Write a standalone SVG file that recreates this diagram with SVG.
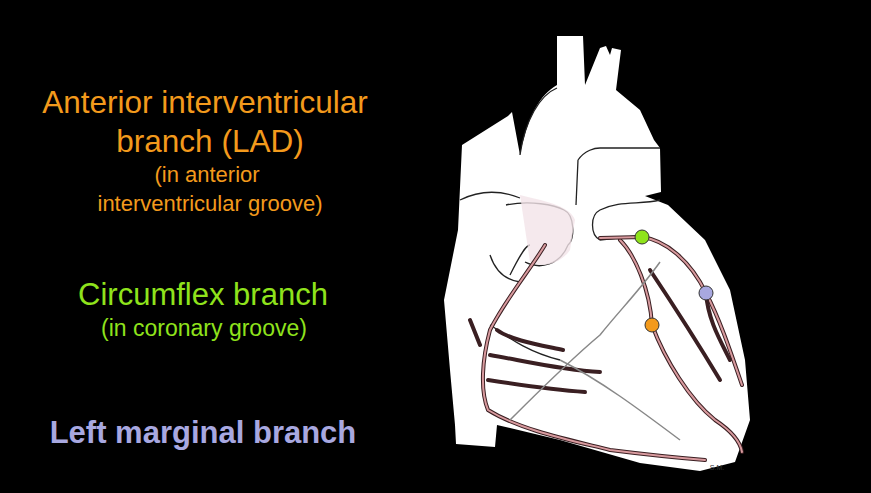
<svg xmlns="http://www.w3.org/2000/svg" width="871" height="493" viewBox="0 0 871 493">
<style>
text{font-family:"Liberation Sans",Arial,sans-serif;text-anchor:middle}
.o{fill:#f39a1c}.g{fill:#8fe31c}.p{fill:#a8a8e0;font-weight:bold}
.ol{fill:none;stroke:#222;stroke-width:1.3}
.a{fill:none;stroke:#3a1f22;stroke-width:4;stroke-linecap:round}
.ai{fill:none;stroke:#d89a9e;stroke-width:2;stroke-linecap:round}
.v{fill:none;stroke:#888;stroke-width:1.5}
</style>
<rect width="871" height="493" fill="#000"/>
<g id="heart">
<path d="M557,36 L583,36 L585,85 L600,48 L606,46 L610,55 L612,48 L621,50 L616,90 L640,110 L654,140 L660,148 L661,192 L645,196 L668,205 L705,240 L730,290 L745,360 L750,420 L735,462 L700,471 L640,463 L560,440 L497,425 L495,447 L456,444 L455,425 L450,370 L444,300 L458,230 L462,145 L508,116 L512,112 L520,155 C528,115 540,95 557,85 Z" fill="#fff"/>
<path class="ol" d="M520,155 C525,120 540,95 557,88 M600,148 L660,148 M578,160 C585,150 595,148 600,148 M578,160 L576,205 M460,200 C480,190 500,190 520,198 M506,205 C530,200 555,205 564,210 C575,215 575,240 568,245 C560,265 540,270 525,262 M600,210 C620,200 640,205 660,200 M600,210 C590,215 590,235 600,240 L645,235 M530,245 C526,245 520,255 510,275 M490,255 C495,270 505,280 520,282 M490,325 C500,330 520,350 560,360"/>
<path d="M520,195 C540,200 570,205 575,220 L570,250 C560,265 540,268 530,262 Z" fill="#f3e4e8" opacity="0.8"/>
<g>
<path class="a" d="M545,245 C530,270 505,300 490,330 C482,360 480,390 488,410 C520,430 570,440 610,450 C650,455 680,458 705,460"/>
<path class="ai" d="M545,245 C530,270 505,300 490,330 C482,360 480,390 488,410 C520,430 570,440 610,450 C650,455 680,458 705,460"/>
<path class="a" d="M497,330 C510,340 540,345 563,350 M490,355 C520,360 560,370 600,372 M488,380 C520,385 555,390 585,392 M470,320 L480,345"/>
<path class="a" d="M620,240 C635,255 650,290 652,325 C665,360 690,400 715,420 C730,430 740,440 742,452"/>
<path class="ai" d="M620,240 C635,255 650,290 652,325 C665,360 690,400 715,420 C730,430 740,440 742,452"/>
<path class="a" d="M600,238 L642,237 C665,240 690,260 706,293 C720,320 730,350 742,385"/>
<path class="ai" d="M600,238 L642,237 C665,240 690,260 706,293 C720,320 730,350 742,385"/>
<path class="a" d="M650,270 C670,300 690,330 720,380 M706,293 C708,320 720,340 730,360"/>
<path class="v" d="M660,262 C640,290 620,310 600,335 C570,360 540,390 510,420 M560,360 C600,380 640,410 680,440"/>
</g>
<text x="717" y="470" font-size="7" fill="#333">S.M.</text>
<circle cx="642" cy="237" r="7" fill="#8fe31c" stroke="#333"/>
<circle cx="706" cy="293" r="7" fill="#a8a8e0" stroke="#333"/>
<circle cx="652" cy="325" r="7" fill="#f39a1c" stroke="#333"/>
</g>
<g id="labels">
<text class="o" x="205" y="113" font-size="31.5">Anterior interventricular</text>
<text class="o" x="210" y="152" font-size="31.5">branch (LAD)</text>
<text class="o" x="207" y="182" font-size="22">(in anterior</text>
<text class="o" x="210" y="211" font-size="22">interventricular groove)</text>
<text class="g" x="203" y="305" font-size="31">Circumflex branch</text>
<text class="g" x="204" y="336" font-size="23">(in coronary groove)</text>
<text class="p" x="203" y="443" font-size="31">Left marginal branch</text>
</g>
</svg>
